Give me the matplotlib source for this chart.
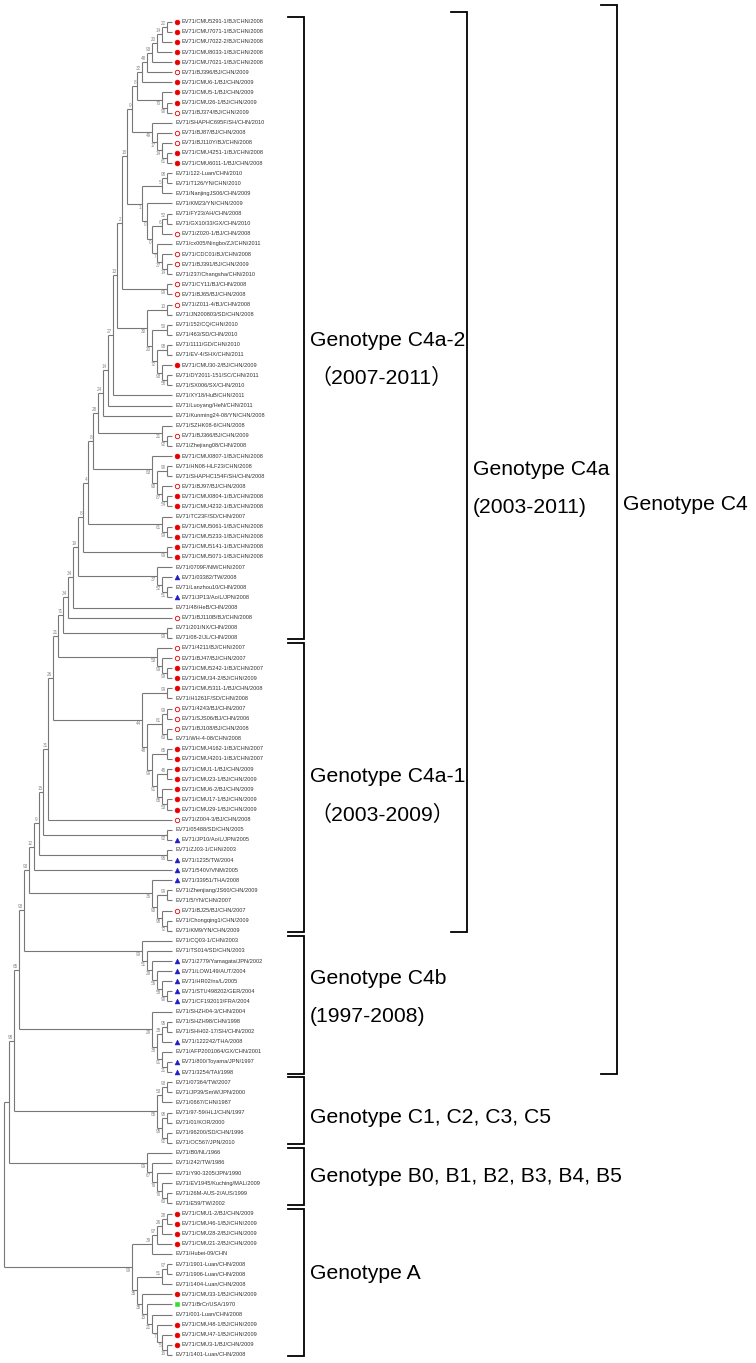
import matplotlib
matplotlib.use("Agg")
import matplotlib.pyplot as plt

plt.rcParams['font.family'] = ['Liberation Sans', 'Noto Sans CJK SC']

# leaf names, top to bottom (all prefixed with EV71/)
names = [
    "CMU5291-1/BJ/CHN/2008", "CMU7071-1/BJ/CHN/2008", "CMU7022-2/BJ/CHN/2008",
    "CMU8033-1/BJ/CHN/2008", "CMU7021-1/BJ/CHN/2008", "BJ396/BJ/CHN/2009",
    "CMU6-1/BJ/CHN/2009", "CMU5-1/BJ/CHN/2009", "CMU26-1/BJ/CHN/2009",
    "BJ374/BJ/CHN/2009", "SHAPHC695F/SH/CHN/2010", "BJ87/BJ/CHN/2008",
    "BJ110Y/BJ/CHN/2008", "CMU4251-1/BJ/CHN/2008", "CMU6011-1/BJ/CHN/2008",
    "122-Luan/CHN/2010", "T126/YN/CHN/2010", "NanjingJS06/CHN/2009",
    "KM23/YN/CHN/2009", "FY23/AH/CHN/2008", "GX10/33/GX/CHN/2010",
    "Z020-1/BJ/CHN/2008", "cx005/Ningbo/ZJ/CHN/2011", "CDC01/BJ/CHN/2008",
    "BJ391/BJ/CHN/2009", "237/Changsha/CHN/2010", "CY11/BJ/CHN/2008",
    "BJ65/BJ/CHN/2008", "Z011-4/BJ/CHN/2008", "JN200803/SD/CHN/2008",
    "152/CQ/CHN/2010", "463/SD/CHN/2010", "1111/GD/CHN/2010",
    "EV-4/SHX/CHN/2011", "CMU30-2/BJ/CHN/2009", "DY2011-151/SC/CHN/2011",
    "SX006/SX/CHN/2010", "XY18/HuB/CHN/2011", "Luoyang/HeN/CHN/2011",
    "Kunming24-08/YN/CHN/2008", "SZHK08-6/CHN/2008", "BJ366/BJ/CHN/2009",
    "Zhejiang08/CHN/2008", "CMU0807-1/BJ/CHN/2008", "HN08-HLF23/CHN/2008",
    "SHAPHC154F/SH/CHN/2008", "BJ97/BJ/CHN/2008", "CMU0804-1/BJ/CHN/2008",
    "CMU4232-1/BJ/CHN/2008", "TC23F/SD/CHN/2007", "CMU5061-1/BJ/CHN/2008",
    "CMU5233-1/BJ/CHN/2008", "CMU5141-1/BJ/CHN/2008", "CMU5071-1/BJ/CHN/2008",
    "0709F/NM/CHN/2007", "03382/TW/2008", "Lanzhou10/CHN/2008",
    "JP13/Ao/L/JPN/2008", "48/HeB/CHN/2008", "BJ110B/BJ/CHN/2008",
    "201/NX/CHN/2008", "08-2/JL/CHN/2008", "4211/BJ/CHN/2007",
    "BJ47/BJ/CHN/2007", "CMU5242-1/BJ/CHN/2007", "CMU34-2/BJ/CHN/2009",
    "CMU5311-1/BJ/CHN/2008", "H1261F/SD/CHN/2008", "4243/BJ/CHN/2007",
    "SJS06/BJ/CHN/2006", "BJ108/BJ/CHN/2008", "WH-4-08/CHN/2008",
    "CMU4162-1/BJ/CHN/2007", "CMU4201-1/BJ/CHN/2007", "CMU1-1/BJ/CHN/2009",
    "CMU23-1/BJ/CHN/2009", "CMU6-2/BJ/CHN/2009", "CMU17-1/BJ/CHN/2009",
    "CMU29-1/BJ/CHN/2009", "Z004-3/BJ/CHN/2008", "05488/SD/CHN/2005",
    "JP10/Ao/L/JPN/2005", "ZJ03-1/CHN/2003", "1235/TW/2004",
    "540V/VNM/2005", "33951/THA/2008", "Zhenjiang/JS60/CHN/2009",
    "5/YN/CHN/2007", "BJ25/BJ/CHN/2007", "Chongqing1/CHN/2009",
    "KM9/YN/CHN/2009", "CQ03-1/CHN/2003", "TS014/SD/CHN/2003",
    "2779/Yamagata/JPN/2002", "LOW149/AUT/2004", "HR02/ns/L/2005",
    "STU498202/GER/2004", "CF192013/FRA/2004", "SHZH04-3/CHN/2004",
    "SHZH98/CHN/1998", "SHH02-17/SH/CHN/2002", "122242/THA/2008",
    "AFP2001064/GX/CHN/2001", "800/Toyama/JPN/1997", "3254/TAI/1998",
    "07364/TW/2007", "JP39/SmW/JPN/2000", "0667/CHN/1987",
    "97-59/HLJ/CHN/1997", "01/KOR/2000", "96200/SD/CHN/1996",
    "OC567/JPN/2010", "B0/NL/1966", "242/TW/1986",
    "Y90-3205/JPN/1990", "EV1945/Kuching/MAL/2009", "26M-AUS-2/AUS/1999",
    "E59/TW/2002", "CMU1-2/BJ/CHN/2009", "CMU46-1/BJ/CHN/2009",
    "CMU28-2/BJ/CHN/2009", "CMU21-2/BJ/CHN/2009", "Hubei-09/CHN",
    "1901-Luan/CHN/2008", "1906-Luan/CHN/2008", "1404-Luan/CHN/2008",
    "CMU33-1/BJ/CHN/2009", "BrCr/USA/1970", "001-Luan/CHN/2008",
    "CMU48-1/BJ/CHN/2009", "CMU47-1/BJ/CHN/2009", "CMU3-1/BJ/CHN/2009",
    "1401-Luan/CHN/2008",
]

# symbol per leaf: f = filled red circle, o = open red circle,
# t = blue triangle, s = green square, - = none  (10 leaves per chunk)
marks = list(
    "fffffofffo" "-ooff-----" "-o-oo-ooo-" "----f-----" "-o-f--off-"
    "ffff-t-t-o" "--oofff-oo" "o-fffffffo" "-t-ttt--o-" "---ttttt--"
    "-t-tt-----" "--------ff" "ff----fs-f" "ff-"
)

# topology with bootstrap values (leaf numbers refer to names, 1-based)
s1 = "(((((((1,2)22,3)14,4)20,5)93,6)48,7)32,(8,(9,10)90)70)8"
s2 = "(11,(12,(13,(14,15)61)14)17)49"
s3 = "(((16,17)98,18)5,(19,(((20,21)52,22)6,(23,(24,(25,26)14)37)7)0)0)1"
c29 = "((29,30)13,((31,32)50,((33,34)98,(35,(36,37)58)93)72)20)30"
c44 = "(44,((45,46)90,(47,(48,49)54)87)90)63"
c55 = "(55,(56,(57,58)51)52)37"
c63 = "(63,(64,(65,66)99)99)53"
c67 = ("((67,68)99,(((69,70)99,(71,72)60)61,((73,74)65,((75,76)45,"
       "(77,(78,79)53)65)91)99)48)44")
c86 = "(86,((87,88)99,(89,(90,91)72)98)90)36"
c4b1 = "(92,(93,(94,(95,(96,(97,98)90)58)56)29)51)99"
c4b2 = "(99,(((100,101)95,102)38,(103,(104,105)21)91)36)29"
c15 = "(((106,107)93,108)53,((109,110)98,(111,112)92)95)85"
gb = "(113,(114,(115,(116,(117,118)60)76)76)67)99"
ga = ("(((((119,120)28,121)26,122)97,123)39,(((124,125)97,126)51,"
      "(127,(128,(129,(130,(131,(132,133)16)5)7)21)15)35)35)99")

c4a2 = ("(" * 15 + s1 + "," + s2 + ")9," + s3 + ")18,(27,28)99)2," + c29 +
        ")13,38)27,39)14,40)24,(41,(42,43)92)21)28," + c44 + ")8,(50,(51,52)99)61)4,(53,54)99)8," +
        c55 + ")19,59)34,60)34,(61,62)99)71")
c4a = "(" * 6 + c4a2 + "," + c63 + ")21," + c67 + ")26,80)31,(81,82)92)15,(83,84)96)9,85)12"
tree = ("(" * 6 + c4a + "," + c86 + ")93," + c4b1 + ")93," + c4b2 + ")65," + c15 + ")98," +
        gb + ")," + ga + ")")

# genotype brackets: text lines, first leaf, last leaf, column
groups = [
    (["Genotype C4a-2", "（2007-2011）"], 1, 62, 0),
    (["Genotype C4a-1", "（2003-2009）"], 63, 91, 0),
    (["Genotype C4b", "(1997-2008)"], 92, 105, 0),
    (["Genotype C1, C2, C3, C5"], 106, 112, 0),
    (["Genotype B0, B1, B2, B3, B4, B5"], 113, 118, 0),
    (["Genotype A"], 119, 133, 0),
    (["Genotype C4a", "(2003-2011)"], 1, 91, 1),
    (["Genotype C4"], 1, 105, 2),
]


def parse(s, i=0):
    if s[i] == '(':
        kids = []
        i += 1
        while True:
            node, i = parse(s, i)
            kids.append(node)
            if s[i] == ',':
                i += 1
            else:
                i += 1
                break
        j = i
        while i < len(s) and s[i] not in ',)':
            i += 1
        return {'kids': kids, 'boot': s[j:i]}, i
    j = i
    while s[i] not in ',)':
        i += 1
    return {'leaf': int(s[j:i]) - 1}, i


root, _ = parse(tree)

TIP_X = 171.7
Y0, DY = 21.7, 10.1


def layout(n):
    if 'leaf' in n:
        n['h'] = 0
        n['y'] = Y0 + n['leaf'] * DY
    else:
        for k in n['kids']:
            layout(k)
        n['h'] = max(k['h'] for k in n['kids']) + 1
        n['y'] = (n['kids'][0]['y'] + n['kids'][-1]['y']) / 2


layout(root)
step = (TIP_X - 4.0) / root['h']

fig = plt.figure(figsize=(7.56, 13.63), dpi=100)
ax = fig.add_axes([0, 0, 1, 1])
ax.set_xlim(0, 756)
ax.set_ylim(1363, 0)
ax.axis('off')

line_kw = dict(color='#777777', lw=0.8, solid_capstyle='butt')


def draw(n):
    n['x'] = TIP_X - n['h'] * step
    if 'leaf' in n:
        return
    for k in n['kids']:
        draw(k)
    ax.plot([n['x'], n['x']], [n['kids'][0]['y'], n['kids'][-1]['y']], **line_kw)
    for idx, k in enumerate(n['kids']):
        ax.plot([n['x'], k['x']], [k['y'], k['y']], **line_kw)
        if 'kids' in k and k['boot']:
            upper = idx == 0
            ax.text(k['x'] - 0.8, k['y'] + (-1.0 if upper else 1.0), k['boot'],
                    ha='right', va='bottom' if upper else 'top',
                    fontsize=3.3, color='#888888')


draw(root)

# leaf symbols and labels
for i, (name, m) in enumerate(zip(names, marks)):
    y = Y0 + i * DY
    tx = 175.0
    if m != '-':
        tx = 181.5
        if m == 'f':
            ax.plot(177, y, marker='o', ms=3.4, mfc='#e60000', mec='#e60000', mew=0.5)
        elif m == 'o':
            ax.plot(177, y, marker='o', ms=3.2, mfc='white', mec='#e60000', mew=0.6)
        elif m == 't':
            ax.plot(177, y, marker='^', ms=3.5, mfc='#1c1cc8', mec='#1c1cc8', mew=0.4)
        elif m == 's':
            ax.plot(177, y, marker='s', ms=3.0, mfc='#33dd33', mec='#33dd33', mew=0.4)
    ax.text(tx, y, "EV71/" + name, ha='left', va='center', fontsize=4.1, color='#333333')

# genotype brackets
col_x = [304.0, 467.0, 617.0]
top_pad = [5.0, 9.5, 16.5]
label_shift = [31, 8, -7, 7, 0, -9, 16, -35]
for (lines, a, b, col), shift in zip(groups, label_shift):
    bx = col_x[col]
    top = Y0 + (a - 1) * DY - top_pad[col]
    bot = Y0 + (b - 1) * DY + 1.5
    ax.plot([bx - 16, bx, bx, bx - 16], [top, top, bot, bot], color='black', lw=1.3,
            solid_joinstyle='miter')
    mid = (top + bot) / 2 + shift
    n = len(lines)
    for j, t in enumerate(lines):
        ax.text(bx + 6, mid + (j - (n - 1) / 2) * 38, t, ha='left', va='center',
                fontsize=15.2, color='black')

fig.savefig('out.png', dpi=100)
